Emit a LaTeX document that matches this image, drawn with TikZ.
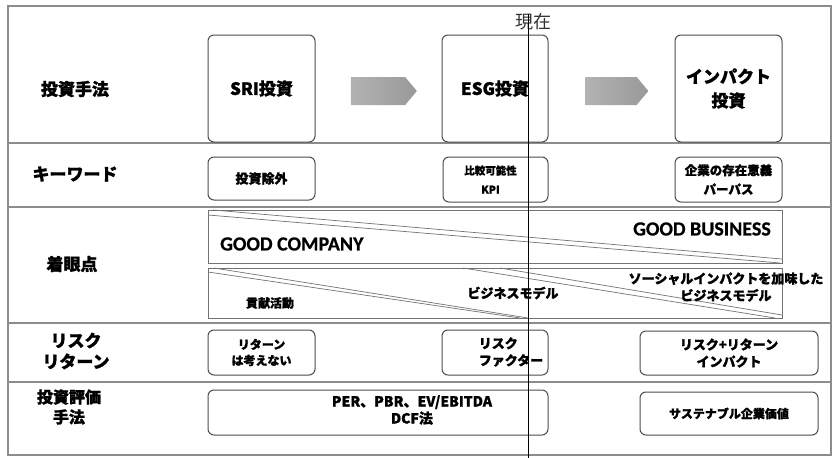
\documentclass[tikz,border=0pt]{standalone}
\usepackage{fontspec}
\newfontfamily\jp{Noto Sans CJK JP}[BoldFeatures={FakeBold=1.2}]
\newfontfamily\lat{Carlito}[BoldFeatures={FakeBold=0.6}]
\usetikzlibrary{shapes.arrows}
\tikzset{
  sep/.style={draw=black!45, line width=1.2pt},
  bandline/.style={draw=black!55, line width=0.7pt},
  ibox/.style={draw=black!70, line width=1pt, rounded corners=6pt, inner sep=0pt, align=center, fill=white},
  rowlab/.style={font={\jp\bfseries\fontsize{17}{21}\selectfont}, align=center, inner sep=0pt},
  bigtxt/.style={font={\jp\bfseries\fontsize{17}{24}\selectfont}},
  midtxt/.style={font={\jp\bfseries\fontsize{13}{17}\selectfont}},
  smalltxt/.style={font={\jp\bfseries\fontsize{11.5}{19}\selectfont}},
  gtxt/.style={font={\lat\bfseries\fontsize{20}{22}\selectfont}, inner sep=0pt},
  blockarrow/.style={shape=single arrow, single arrow head extend=0pt, single arrow tip angle=100,
     minimum height=66pt, minimum width=28pt, inner sep=0pt, draw=none, left color=black!30, right color=black!40},
  nowline/.style={draw=black, line width=0.9pt}
}
\begin{document}
\begin{tikzpicture}[x=1pt,y=-1pt]
\useasboundingbox (0,0) rectangle (839,458);
\fill[white] (0,0) rectangle (839,458);
% outer frame and row separators
\draw[sep] (8,6) rectangle (831,455);
\draw[sep] (8,143) -- (831,143);
\draw[sep] (8,207) -- (831,207);
\draw[sep] (8,323) -- (831,323);
\draw[sep] (8,382) -- (831,382);

% row labels
\node[rowlab] (l1) at (75,89) {投資手法};
\node[rowlab] (l2) at (75,174) {キーワード};
\node[rowlab] (l3) at (72,264) {着眼点};
\node[rowlab] (l4) at (76,351) {リスク\\リターン};
\node[rowlab, font={\jp\bfseries\fontsize{16}{20}\selectfont}] (l5) at (69,407) {投資評価\\手法};

% row 1
\node[ibox, bigtxt, minimum width=107pt, minimum height=107pt] (sri) at (261.5,88.5) {SRI投資};
\node[ibox, bigtxt, minimum width=106pt, minimum height=107pt] (esg) at (495,88.5) {ESG投資};
\node[ibox, bigtxt, minimum width=107pt, minimum height=107pt] (imp) at (728.5,88.5) {インパクト\\投資};
\node[blockarrow] (arr1) at (378,91) {};
\node[blockarrow, minimum height=63pt] (arr2) at (611,91) {};

% row 2
\node[ibox, minimum width=107pt, minimum height=43pt, font={\jp\bfseries\fontsize{13}{17}\selectfont}] (kw1) at (261.5,178.5) {投資除外};
\node[ibox, minimum width=105pt, minimum height=45pt, font={\jp\bfseries\fontsize{10.5}{19}\selectfont}] (kw2) at (495.5,179.5) {\hspace*{-10pt}比較可能性\\\hspace*{-10pt}KPI};
\node[ibox, minimum width=107pt, minimum height=45pt, font={\jp\bfseries\fontsize{12.5}{19}\selectfont}] (kw3) at (728.5,179.5) {企業の存在意義\\パーパス};

% row 3 bands
\draw[bandline] (208,210) rectangle (782,263);
\draw[bandline] (208,215) -- (780,263);
\draw[bandline] (213,210) -- (782,259);
\draw[bandline] (208,268) rectangle (782,318);
\draw[bandline] (208,272) -- (520,318);
\draw[bandline] (214,268) -- (528,318);
\draw[bandline] (463,268) -- (775,318);
\draw[bandline] (500,268) -- (782,315);
\node[gtxt, anchor=west] (gc) at (220,244) {GOOD COMPANY};
\node[gtxt, anchor=east] (gb) at (771,229) {GOOD BUSINESS};
\node[font={\jp\bfseries\fontsize{12}{15}\selectfont}] (kk) at (270,303) {貢献活動};
\node[midtxt] (bm) at (513,293) {ビジネスモデル};
\node[midtxt, align=center] (sbm) at (726,287) {ソーシャルインパクトを加味した\\ビジネスモデル};

% row 4
\node[ibox, minimum width=107pt, minimum height=45pt, font={\jp\bfseries\fontsize{12}{16}\selectfont}] (rr1) at (261.5,352.5) {リターン\\は考えない};
\node[ibox, minimum width=106pt, minimum height=45pt] (rr2) at (495,352.5) {};
\node[midtxt, align=left, inner sep=0pt] (rr2t) at (511,352) {リスク\\ファクター};
\node[ibox, midtxt, minimum width=178pt, minimum height=44pt] (rr3) at (729,353) {リスク+リターン\\インパクト};

% row 5
\node[ibox, minimum width=340pt, minimum height=45pt] (ev1) at (378,412.5) {};
\node[align=center, inner sep=0pt, font={\jp\bfseries\fontsize{14}{17}\selectfont}] (ev1t) at (412,410) {PER、PBR、EV/EBITDA\\DCF法};
\node[ibox, minimum width=178pt, minimum height=43pt, font={\jp\bfseries\fontsize{12}{15}\selectfont}] (ev2) at (729,413.5) {サステナブル企業価値};

% now line
\node[font={\jp\fontsize{18}{20}\selectfont}, text=black!80, inner sep=0pt] (now) at (533,22) {現在};
\coordinate (nowtop) at (528,14);
\coordinate (nowbot) at (528,458);
\draw[nowline] (nowtop) -- (nowbot);
\end{tikzpicture}
\end{document}
